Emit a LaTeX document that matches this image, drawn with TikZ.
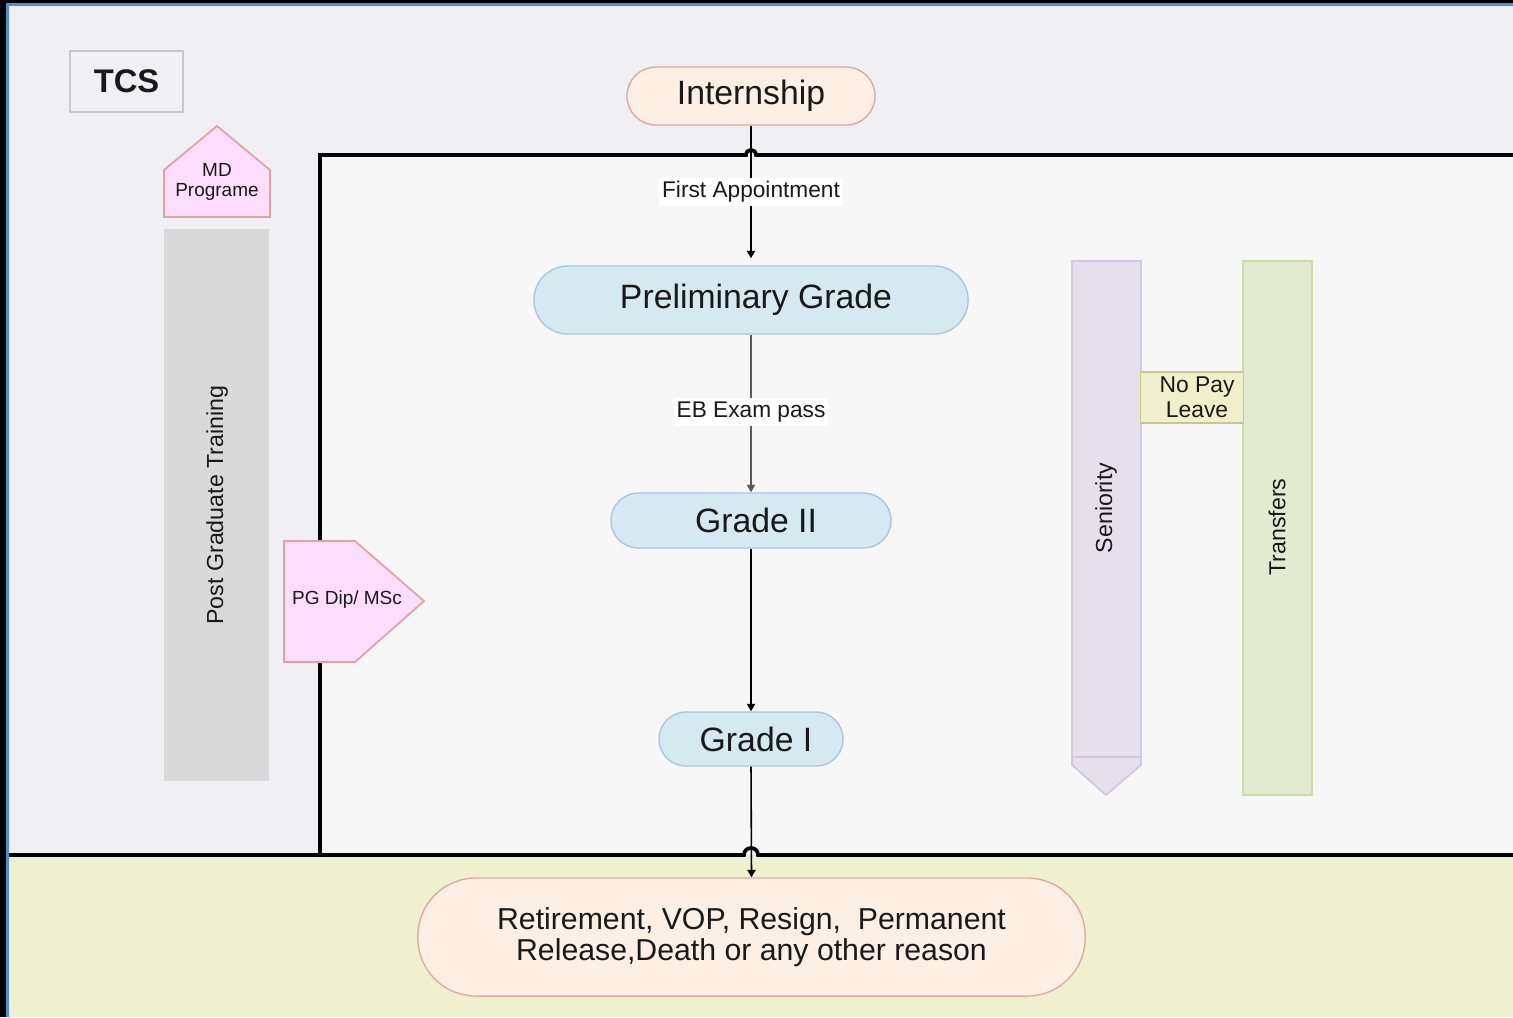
\documentclass[tikz,border=0pt]{standalone}
\usepackage{fontspec}
\setmainfont{Liberation Sans}
\usetikzlibrary{arrows.meta}
\definecolor{frameblue}{RGB}{74,144,217}
\definecolor{lav}{RGB}{240,239,244}
\definecolor{innerc}{RGB}{247,247,247}
\definecolor{bottomc}{RGB}{239,240,208}
\definecolor{peachF}{RGB}{253,239,228}
\definecolor{peachB}{RGB}{229,168,160}
\definecolor{blueF}{RGB}{212,234,240}
\definecolor{blueB}{RGB}{170,198,226}
\definecolor{pinkF}{RGB}{255,221,255}
\definecolor{pinkB}{RGB}{230,160,160}
\definecolor{greyBar}{RGB}{217,217,217}
\definecolor{senF}{RGB}{230,224,236}
\definecolor{senB}{RGB}{210,200,226}
\definecolor{trF}{RGB}{226,235,208}
\definecolor{trB}{RGB}{200,220,168}
\definecolor{npF}{RGB}{240,240,204}
\definecolor{npB}{RGB}{200,200,140}
\definecolor{tcsB}{RGB}{200,200,200}
\definecolor{txt}{RGB}{25,25,25}
\newcommand\szNode{\fontsize{9.6pt}{11pt}\selectfont}
\newcommand\szRet{\fontsize{8.6pt}{8.9pt}\selectfont}
\newcommand\szLab{\fontsize{6.45pt}{7.1pt}\selectfont}
\newcommand\szBar{\fontsize{6.6pt}{7.5pt}\selectfont}
\newcommand\szSmall{\fontsize{5.4pt}{5.7pt}\selectfont}
\newcommand\nudge{\hspace*{0.1cm}}
\begin{document}
\begin{tikzpicture}[x=0.01cm,y=-0.01cm,
  peachnode/.style={draw=peachB, fill=peachF, line width=0.4pt, inner sep=0pt, align=center, text=txt},
  bluenode/.style={draw=blueB, fill=blueF, line width=0.4pt, inner sep=0pt, font=\szNode, text=txt},
  arr/.style={-{Triangle[length=2.1pt,width=2.3pt]}, line width=0.45pt},
  edgelabel/.style={fill=white, inner xsep=0.8pt, inner ysep=1pt, font=\szLab, text=txt},
  border/.style={line width=1.05pt, black},
  bartext/.style={rotate=90, font=\szBar, text=txt, inner sep=0pt},
  smalltext/.style={font=\szSmall, text=txt, align=center, inner sep=0pt}]
\useasboundingbox (0,0) rectangle (1513,1017);
% frame and regions
\fill[black] (0,0) rectangle (1513,1017);
\fill[frameblue] (6,3) rectangle (1513,1017);
\fill[lav] (9,6) rectangle (1513,855);
\fill[bottomc] (9,855) rectangle (1513,1017);
\fill[innerc] (320,155) rectangle (1513,855);
\draw[border] (320,855) -- (320,155) -- (746,155) .. controls (746,148.3) and (756,148.3) .. (756,155) -- (1513,155);
\draw[border] (9,855) -- (744,855) .. controls (744,845.7) and (758,845.7) .. (758,855) -- (1513,855);
% TCS
\node[draw=tcsB, fill=lav, line width=0.5pt, minimum width=1.13cm, minimum height=0.61cm, inner sep=0pt,
      font=\fontsize{9.3pt}{10pt}\selectfont\bfseries, text=txt] (tcs) at (126.5,81.5) {\raisebox{-0.4pt}{TCS}};
% MD Programe
\draw[draw=pinkB, fill=pinkF, line width=0.5pt] (164,217) -- (164,170) -- (217,126) -- (270,170) -- (270,217) -- cycle;
\node[smalltext] (md) at (217,182) {MD\\Programe};
% Post graduate bar
\fill[greyBar] (164,229) rectangle (269,781);
\node[bartext] (pgt) at (217,505) {Post Graduate Training};
% PG Dip
\draw[draw=pinkB, fill=pinkF, line width=0.5pt] (284,541) -- (355,541) -- (424,601) -- (355,662) -- (284,662) -- cycle;
\node[smalltext] (pgdip) at (347,600) {PG Dip/ MSc};
% Seniority
\draw[draw=senB, fill=senF, line width=0.5pt] (1072,261) -- (1141,261) -- (1141,765) -- (1106,795) -- (1072,765) -- cycle;
\draw[draw=senB, line width=0.5pt] (1072,757) -- (1141,757);
\node[bartext] (sen) at (1106,508) {Seniority};
% Transfers
\draw[draw=trB, fill=trF, line width=0.5pt] (1243,261) rectangle (1312,795);
\node[bartext] (tr) at (1277,527) {Transfers};
% No Pay Leave
\node[draw=npB, fill=npF, line width=0.5pt, minimum width=1.03cm, minimum height=0.51cm, inner sep=0pt,
      align=center, font=\fontsize{6.5pt}{7.1pt}\selectfont, text=txt] (npl) at (1192,397.5) {\nudge No Pay\\\nudge Leave};
% main flow
\node[peachnode, font=\szNode, minimum width=2.48cm, minimum height=0.58cm, rounded corners=0.29cm] (intern) at (751,96) {\raisebox{-0.5pt}{Internship}};
\node[bluenode, minimum width=4.34cm, minimum height=0.68cm, rounded corners=0.34cm] (prelim) at (751,300) {\nudge Preliminary Grade};
\node[bluenode, minimum width=2.80cm, minimum height=0.55cm, rounded corners=0.275cm] (g2) at (751,520.5) {\nudge Grade II};
\node[bluenode, minimum width=1.84cm, minimum height=0.54cm, rounded corners=0.27cm] (g1) at (751,739) {\nudge Grade I};
\node[peachnode, font=\szRet, minimum width=6.67cm, minimum height=1.18cm, rounded corners=0.58cm] (ret) at (751.5,937)
  {Retirement, VOP, Resign,~ Permanent\\Release,Death or any other reason};
% connectors
\draw[arr, shorten >=2pt] (intern.south) -- (prelim.north) node[edgelabel, pos=0.475] (fa) {First Appointment};
\draw[arr, black!65] (prelim.south) -- (g2.north) node[edgelabel, pos=0.49] (eb) {EB Exam pass};
\draw[arr] (g2.south) -- (g1.north);
\draw[arr] (g1.south) -- (ret.north);
\end{tikzpicture}
\end{document}
